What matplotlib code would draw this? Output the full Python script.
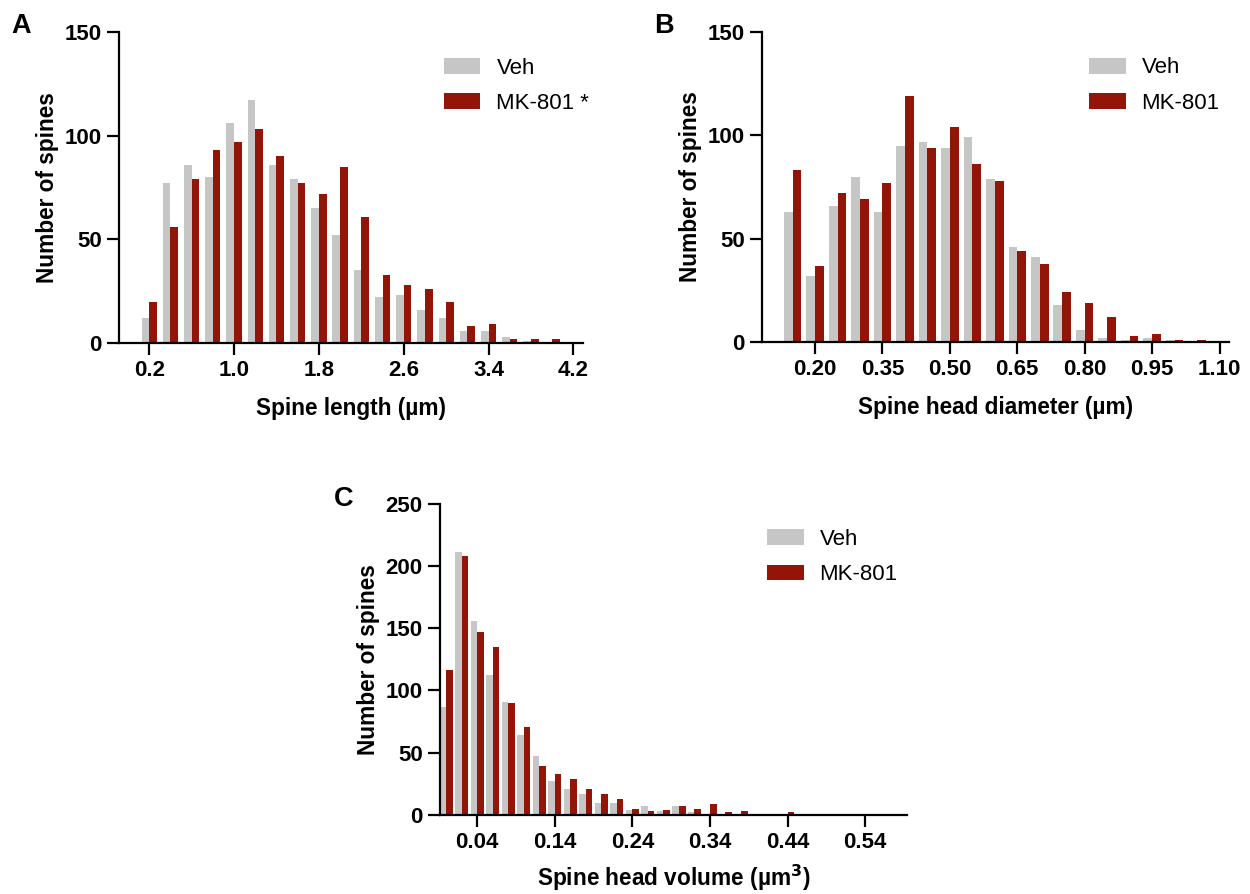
import matplotlib
matplotlib.use("Agg")
import matplotlib.pyplot as plt
import numpy as np

plt.rcParams["font.family"] = ["Liberation Sans", "DejaVu Sans"]

# colours
VEH_COLOR = "#c6c6c6"
MK_COLOR = "#921508"

# A: spine length histogram (bin centres, µm)
length_bins = [0.2, 0.4, 0.6, 0.8, 1.0, 1.2, 1.4, 1.6, 1.8, 2.0,
               2.2, 2.4, 2.6, 2.8, 3.0, 3.2, 3.4, 3.6, 3.8, 4.0]
length_veh = [12, 77, 86, 80, 106, 117, 86, 79, 65, 52,
              35, 22, 23, 16, 12, 6, 6, 3, 1, 0]
length_mk = [20, 56, 79, 93, 97, 103, 90, 77, 72, 85,
             61, 33, 28, 26, 20, 8, 9, 2, 2, 2]
length_ticks = [0.2, 1.0, 1.8, 2.6, 3.4, 4.2]

# B: spine head diameter histogram (bin centres, µm)
diam_bins = [0.15, 0.20, 0.25, 0.30, 0.35, 0.40, 0.45, 0.50, 0.55, 0.60,
             0.65, 0.70, 0.75, 0.80, 0.85, 0.90, 0.95, 1.00, 1.05]
diam_veh = [63, 32, 66, 80, 63, 95, 97, 94, 99, 79,
            46, 41, 18, 6, 2, 1, 2, 1, 0]
diam_mk = [83, 37, 72, 69, 77, 119, 94, 104, 86, 78,
           44, 38, 24, 19, 12, 3, 4, 1, 1]
diam_ticks = [0.20, 0.35, 0.50, 0.65, 0.80, 0.95, 1.10]

# C: spine head volume histogram (bin centres, µm³)
vol_bins = [0.00, 0.02, 0.04, 0.06, 0.08, 0.10, 0.12, 0.14, 0.16, 0.18,
            0.20, 0.22, 0.24, 0.26, 0.28, 0.30, 0.32, 0.34, 0.36, 0.38,
            0.40, 0.42, 0.44, 0.46, 0.48, 0.50, 0.52, 0.54, 0.56, 0.58]
vol_veh = [87, 211, 156, 112, 91, 64, 47, 27, 21, 17,
           10, 10, 4, 7, 3, 7, 2, 1, 1, 0,
           1, 1, 1, 0, 0, 0, 0, 1, 0, 1]
vol_mk = [116, 208, 147, 135, 90, 71, 39, 33, 29, 21,
          17, 13, 5, 3, 4, 7, 5, 9, 2, 3,
          0, 1, 2, 0, 1, 0, 0, 0, 0, 0]
vol_ticks = [0.04, 0.14, 0.24, 0.34, 0.44, 0.54]

TICK_FS = 16
LABEL_FS = 16.3
LEGEND_FS = 16


def histo_panel(ax, bins, veh, mk, width, xlim, xticks, fmt, ymax, ystep,
                xlabel, mk_label, letter, letter_xy, xpad=11):
    bins = np.asarray(bins)
    ax.bar(bins - width / 2, veh, width=width, color=VEH_COLOR, label="Veh")
    ax.bar(bins + width / 2, mk, width=width, color=MK_COLOR, label=mk_label)
    ax.set_xlim(*xlim)
    ax.set_ylim(0, ymax)
    ax.set_xticks(xticks)
    ax.set_xticklabels([fmt.format(t) for t in xticks])
    ax.set_yticks(np.arange(0, ymax + 1, ystep))
    for s in ("top", "right"):
        ax.spines[s].set_visible(False)
    for s in ("left", "bottom"):
        ax.spines[s].set_linewidth(1.6)
    ax.tick_params(direction="out", length=8.5, width=1.6, labelsize=TICK_FS,
                   pad=4)
    for lab in ax.get_xticklabels() + ax.get_yticklabels():
        lab.set_fontweight("bold")
    ax.set_xlabel(xlabel, fontsize=LABEL_FS, fontweight="bold", labelpad=xpad)
    ax.set_ylabel("Number of spines", fontsize=LABEL_FS, fontweight="bold",
                  labelpad=4)
    leg = ax.legend(loc="upper left", bbox_to_anchor=(0.70, 0.918),
                    frameon=False, fontsize=LEGEND_FS, handlelength=1.65,
                    handleheight=0.72, handletextpad=0.72, labelspacing=0.64,
                    borderpad=0, borderaxespad=0)
    ax.figure.text(letter_xy[0], letter_xy[1], letter, fontsize=19.5,
                   fontweight="bold", va="top", ha="left")
    return leg


fig = plt.figure(figsize=(12.5, 8.94), dpi=100)

ax_a = fig.add_axes([0.0952, 0.6163, 0.3712, 0.3479])
histo_panel(ax_a, length_bins, length_veh, length_mk, 0.072,
            (-0.085, 4.29), length_ticks, "{:.1f}", 150, 50,
            "Spine length (µm)", "MK-801 *", "A", (0.009, 0.985))

ax_b = fig.add_axes([0.6096, 0.6174, 0.3736, 0.3468])
histo_panel(ax_b, diam_bins, diam_veh, diam_mk, 0.0195,
            (0.082, 1.121), diam_ticks, "{:.2f}", 150, 50,
            "Spine head diameter (µm)", "MK-801", "B", (0.523, 0.985))

ax_c = fig.add_axes([0.352, 0.0884, 0.3736, 0.3484])
histo_panel(ax_c, vol_bins, vol_veh, vol_mk, 0.0085,
            (-0.008, 0.594), vol_ticks, "{:.2f}", 250, 50,
            "Spine head volume (µm$^\\mathbf{3}$)", "MK-801", "C",
            (0.267, 0.456), xpad=7)

fig.savefig("out.png", dpi=100)
